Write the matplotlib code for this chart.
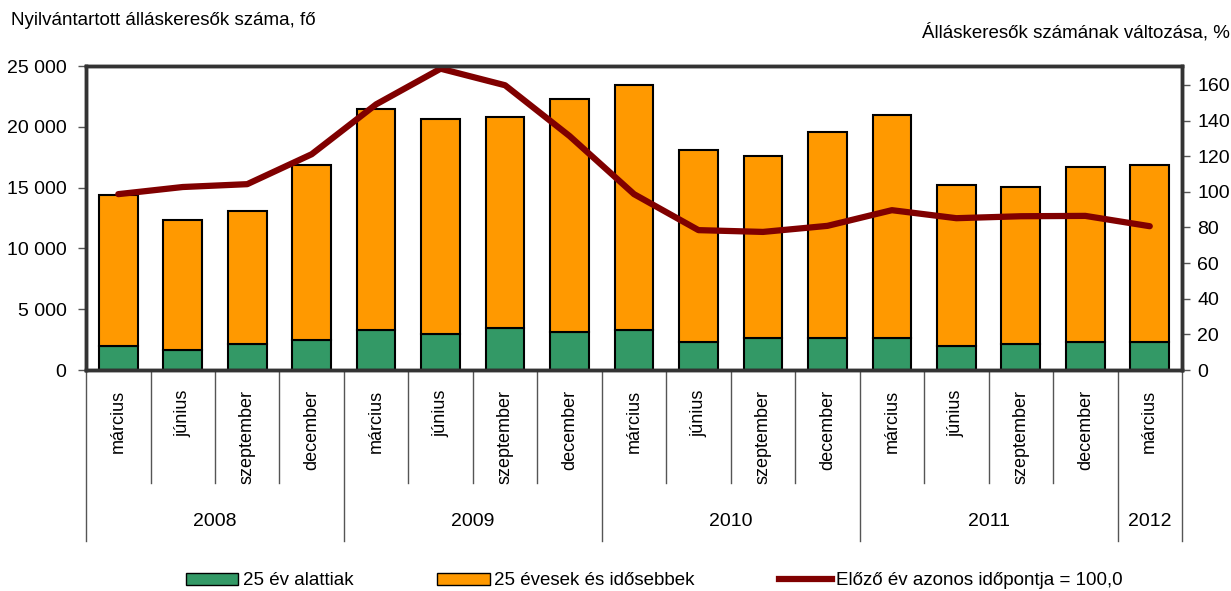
import matplotlib
matplotlib.use("Agg")
import matplotlib.pyplot as plt
import matplotlib.transforms as mtransforms
from matplotlib.patches import Patch
from matplotlib.lines import Line2D
from matplotlib.ticker import FuncFormatter

plt.rcParams['font.family'] = ['Liberation Sans Narrow', 'Liberation Sans', 'DejaVu Sans']
plt.rcParams['font.size'] = 13.5

months = ['március', 'június', 'szeptember', 'december'] * 4 + ['március']
years = ['2008', '2009', '2010', '2011', '2012']
year_spans = [(0, 3), (4, 7), (8, 11), (12, 15), (16, 16)]

under25 = [1990, 1640, 2130, 2460, 3280, 2950, 3440, 3110, 3280, 2300, 2620, 2620, 2620, 1970, 2130, 2300, 2300]
total = [14370, 12300, 13090, 16890, 21480, 20660, 20820, 22300, 23470, 18060, 17570, 19540, 20980, 15250, 15080, 16720, 16890]
over25 = [t - u for t, u in zip(total, under25)]
index_prev = [98.7, 102.7, 104.3, 121.1, 149.1, 169.1, 159.8, 131.3, 98.7, 78.5, 77.5, 80.9, 89.7, 85.2, 86.3, 86.5, 80.7]

green = '#339966'
orange = '#FF9900'
red = '#800000'
frame = '#333333'

fig = plt.figure(figsize=(12.31, 5.91), dpi=100)
ax = fig.add_axes([0.0699, 0.3739, 0.8903, 0.5144])
ax2 = ax.twinx()

x = list(range(len(months)))
ax.bar(x, under25, width=0.6, color=green, edgecolor='black', linewidth=1.5, zorder=2)
ax.bar(x, over25, width=0.6, bottom=under25, color=orange, edgecolor='black', linewidth=1.5, zorder=2)
ax2.plot(x, index_prev, color=red, linewidth=4.5, solid_capstyle='round', solid_joinstyle='round')

ax.set_xlim(-0.5, len(months) - 0.5)
ax.set_ylim(0, 25000)
ax.set_yticks(range(0, 25001, 5000))
ax.yaxis.set_major_formatter(FuncFormatter(lambda v, p: '{:,.0f}'.format(v).replace(',', ' ')))
ax2.set_ylim(0, 170.6)
ax2.set_yticks(range(0, 161, 20))

for a in (ax, ax2):
    for s in a.spines.values():
        s.set_linewidth(2.5)
        s.set_color(frame)
ax.tick_params(axis='y', length=6, width=1, color='#555555', pad=8, labelsize=14)
ax2.tick_params(axis='y', length=6, width=1, color='#555555', pad=5, labelsize=14)
ax.set_xticks([])

# category axis with month and year separators
trans = mtransforms.blended_transform_factory(ax.transData, ax.transAxes)
year_edges = [-0.5, 3.5, 7.5, 11.5, 15.5, 16.5]
for i in range(len(months) + 1):
    xe = i - 0.5
    low = -0.5625 if xe in year_edges else -0.372
    ax.plot([xe, xe], [0, low], transform=trans, color='#555555', linewidth=1, clip_on=False)
for i, m in enumerate(months):
    ax.text(i, -0.066, m, transform=trans, rotation=90, ha='center', va='top', fontsize=13)
for (a, b), yr in zip(year_spans, years):
    ax.text((a + b) / 2, -0.497, yr, transform=trans, ha='center', va='center', fontsize=14)

fig.text(0.009, 0.966, 'Nyilvántartott álláskeresők száma, fő', ha='left', va='center')
fig.text(0.999, 0.946, 'Álláskeresők számának változása, %', ha='right', va='center')

# legend, three separate entries
items = [
    (Patch(facecolor=green, edgecolor='black', linewidth=1), '25 év alattiak', 0.151),
    (Patch(facecolor=orange, edgecolor='black', linewidth=1), '25 évesek és idősebbek', 0.355),
    (Line2D([], [], color=red, linewidth=4.5), 'Előző év azonos időpontja = 100,0', 0.633),
]
for h, lab, xpos in items:
    fig.legend([h], [lab], loc='center left', bbox_to_anchor=(xpos, 0.017), frameon=False,
               borderpad=0, borderaxespad=0, handlelength=2.8, handleheight=0.6, handletextpad=0.25)

fig.savefig('out.png', dpi=100)
